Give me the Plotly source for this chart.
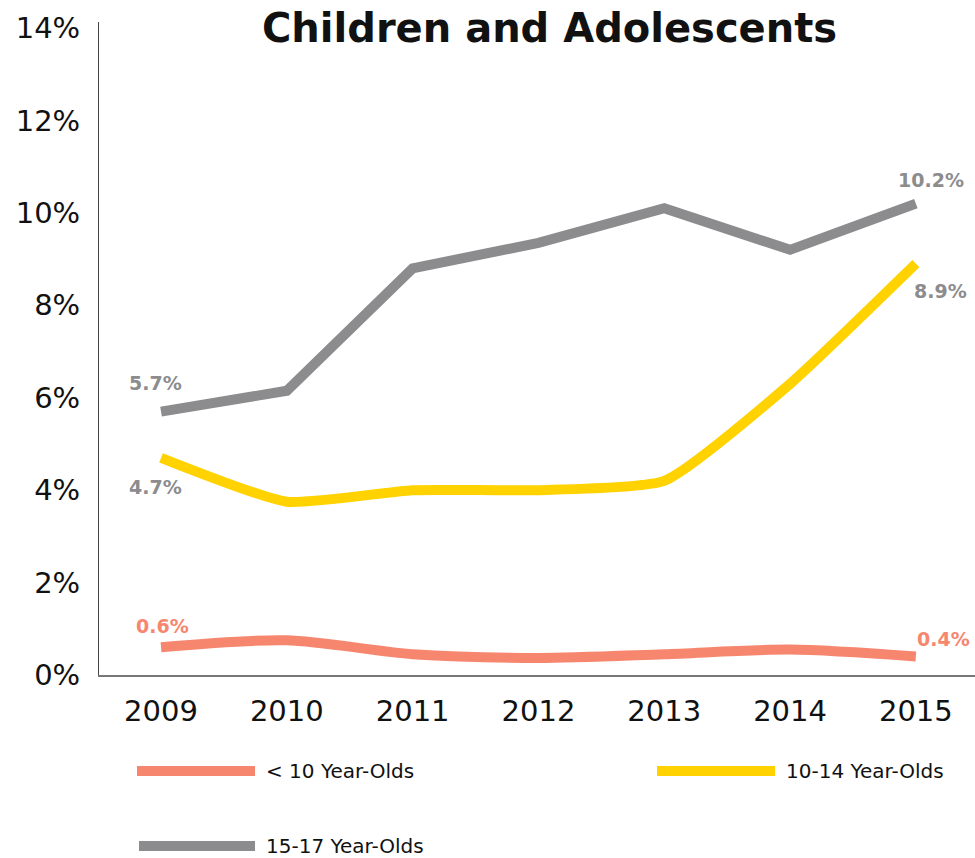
import plotly.graph_objects as go

years = [2009, 2010, 2011, 2012, 2013, 2014, 2015]
under10 = [0.6, 0.75, 0.45, 0.37, 0.45, 0.55, 0.4]
age10_14 = [4.7, 3.75, 4.0, 4.0, 4.2, 6.3, 8.9]
age15_17 = [5.7, 6.15, 8.8, 9.35, 10.1, 9.2, 10.2]
series_names = ["< 10 Year-Olds", "10-14 Year-Olds", "15-17 Year-Olds"]
colors = ["#f7866f", "#ffd200", "#8c8c8e"]
y_ticks = [0, 2, 4, 6, 8, 10, 12, 14]
title = "Children and Adolescents"

FONT = "DejaVu Sans"
W, H = 975, 858
ML, MR, MT, MB = 99, 0, 22, 183
PW, PH = W - ML - MR, H - MT - MB


def px(x):
    return (x - ML) / PW


def py(y):
    return (H - MB - y) / PH


fig = go.Figure()
fig.add_trace(go.Scatter(x=years, y=under10, mode="lines", name=series_names[0],
                         line=dict(color=colors[0], width=10, shape="spline", smoothing=0.8)))
fig.add_trace(go.Scatter(x=years, y=age10_14, mode="lines", name=series_names[1],
                         line=dict(color=colors[1], width=10, shape="spline", smoothing=0.5)))
fig.add_trace(go.Scatter(x=years, y=age15_17, mode="lines", name=series_names[2],
                         line=dict(color=colors[2], width=10)))

lbl_font = dict(family=FONT, size=19, weight="bold")


def vlabel(xv, yv, color, xs, ys):
    return dict(x=xv, y=yv, text=f"{yv}%", xref="x", yref="y", showarrow=False,
                xshift=xs, yshift=ys, font=dict(color=color, **lbl_font))


ann = [
    vlabel(years[0], age15_17[0], colors[2], -6, 29),
    vlabel(years[0], age10_14[0], colors[2], -6, -29),
    vlabel(years[-1], age15_17[-1], colors[2], 15, 24),
    vlabel(years[-1], age10_14[-1], colors[2], 25, -27),
    vlabel(years[0], under10[0], colors[0], 1, 21),
    vlabel(years[-1], under10[-1], colors[0], 28, 18),
]

ann.append(dict(x=px(549), y=py(28), xref="paper", yref="paper", xanchor="center", yanchor="middle",
                text=f"<b>{title}</b>", showarrow=False,
                font=dict(family=FONT, size=40, color="#111")))

legend_items = [(0, 137, 255, 771), (1, 657, 775, 771), (2, 139, 255, 846)]
shapes = []
for idx, x0, x1, yy in legend_items:
    shapes.append(dict(type="line", xref="paper", yref="paper",
                       x0=px(x0), x1=px(x1), y0=py(yy), y1=py(yy),
                       line=dict(color=colors[idx], width=10)))
    ann.append(dict(x=px(x1 + 9), y=py(yy), xref="paper", yref="paper",
                    xanchor="left", yanchor="middle", text=series_names[idx], showarrow=False,
                    font=dict(family=FONT, size=20, color="#111")))

fig.update_layout(
    width=W, height=H,
    margin=dict(l=ML, r=MR, t=MT, b=MB),
    plot_bgcolor="white", paper_bgcolor="white",
    showlegend=False,
    annotations=ann, shapes=shapes,
    xaxis=dict(range=[2008.507, 2015.47], tickvals=years, ticktext=[str(y) for y in years],
               showgrid=False, zeroline=False, showline=True, linecolor="#777", linewidth=1.5,
               ticks="", tickfont=dict(family=FONT, size=29, color="#111"), ticklabelstandoff=9),
    yaxis=dict(range=[0, 14.13], tickvals=y_ticks, ticktext=[f"{v}%" for v in y_ticks],
               showgrid=False, zeroline=False, showline=True, linecolor="#444", linewidth=1,
               ticks="", tickfont=dict(family=FONT, size=29, color="#111"), ticklabelstandoff=12),
)

fig.write_html("out.html")
